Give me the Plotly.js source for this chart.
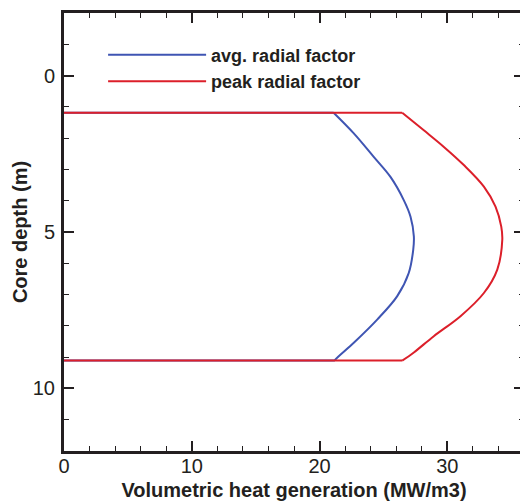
<!DOCTYPE html>
<html>
<head>
<meta charset="utf-8">
<script src="https://cdn.plot.ly/plotly-3.0.1.min.js"></script>
<style>
html,body{margin:0;padding:0;overflow:hidden;background:#fff;}
#chart{width:524px;height:501px;}
</style>
</head>
<body>
<div id="chart"></div>
<script>
// avg. radial factor profile (heat generation MW/m3 vs core depth m); null splits flat runs from the curve
var avgHeat  = [0, 21.1, null, 21.1, 22.68, 24.24, 25.55, 26.59, 27.12, 27.38, 27.33, 26.98, 26.08, 24.51, 22.68, 21.25, 21.2, null, 21.2, 0];
var avgDepth = [1.19, 1.19, null, 1.19, 1.85, 2.60, 3.24, 3.98, 4.51, 5.14, 5.57, 6.31, 7.05, 7.80, 8.54, 9.07, 9.11, null, 9.11, 9.11];
// peak radial factor profile
var peakHeat  = [0, 26.47, null, 26.47, 28.16, 29.73, 31.29, 32.86, 33.77, 34.22, 34.30, 33.91, 32.86, 31.03, 28.94, 27.38, 26.47, null, 26.47, 0];
var peakDepth = [1.19, 1.19, null, 1.19, 1.75, 2.28, 2.86, 3.55, 4.19, 4.83, 5.25, 6.20, 6.95, 7.69, 8.33, 8.85, 9.11, null, 9.11, 9.11];
var seriesNames = ["avg. radial factor", "peak radial factor"];
var xTicks = [0, 10, 20, 30];
var yTicks = [0, 5, 10];

var font = "Liberation Sans, Arial, Helvetica, sans-serif";
var data = [
  {x: avgHeat, y: avgDepth, mode: "lines", name: seriesNames[0], connectgaps: false,
   line: {color: "#3f55b3", width: 2, shape: "spline", smoothing: 1}},
  {x: peakHeat, y: peakDepth, mode: "lines", name: seriesNames[1], connectgaps: false,
   line: {color: "#dc1f2a", width: 2, shape: "spline", smoothing: 1}}
];
var axisCommon = {
  showline: true, linewidth: 3, linecolor: "#231f20", mirror: "ticks",
  ticks: "inside", ticklen: 10, tickwidth: 2, tickcolor: "#231f20",
  showgrid: false, zeroline: false,
  tickfont: {family: font, size: 20, color: "#231f20"}
};
var layout = {
  width: 524, height: 501,
  margin: {l: 64, r: 0, t: 13, b: 50},
  paper_bgcolor: "#fff", plot_bgcolor: "#fff",
  showlegend: true,
  legend: {x: 0.085, y: 0.946, xanchor: "left", yanchor: "top",
    bgcolor: "rgba(0,0,0,0)", itemwidth: 98, tracegroupgap: 0,
    font: {family: font, size: 18, color: "#231f20", weight: "bold"}},
  xaxis: Object.assign({}, axisCommon, {
    range: [0, 36], tickvals: xTicks, ticklabelstandoff: -5,
    minor: {ticks: "inside", dtick: 2, ticklen: 5, tickwidth: 1, tickcolor: "#231f20"},
    title: {text: "Volumetric heat generation (MW/m3)", standoff: 8,
      font: {family: font, size: 20, color: "#231f20", weight: "bold"}}
  }),
  yaxis: Object.assign({}, axisCommon, {
    range: [12, -2], tickvals: yTicks, ticklabelstandoff: 2,
    minor: {ticks: "inside", dtick: 1, ticklen: 5, tickwidth: 1, tickcolor: "#231f20"},
    title: {text: "Core depth (m)", standoff: 0,
      font: {family: font, size: 20, color: "#231f20", weight: "bold"}}
  })
};
Plotly.newPlot("chart", data, layout, {displayModeBar: false, staticPlot: true});
</script>
</body>
</html>
